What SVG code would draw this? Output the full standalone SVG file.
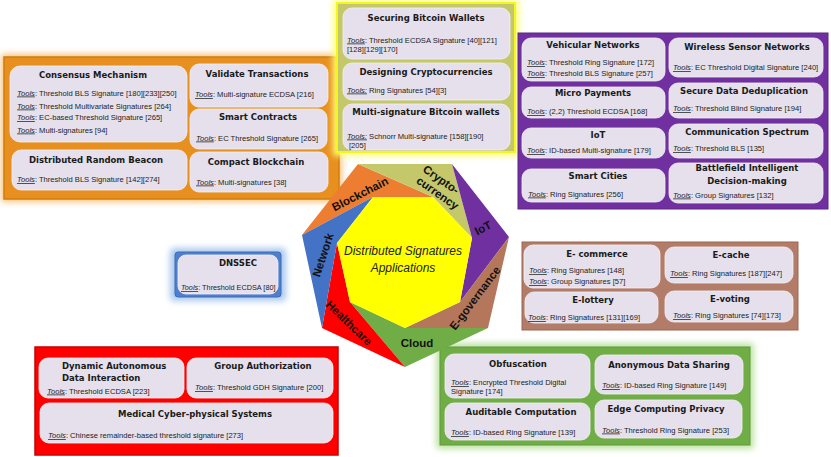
<svg xmlns="http://www.w3.org/2000/svg" width="831" height="457" viewBox="0 0 831 457">
<defs>
<filter id="blur" x="-20%" y="-20%" width="140%" height="140%"><feGaussianBlur stdDeviation="3"/></filter>
<style>
.box{fill:#E5E0EC;stroke:#F4F1F7;stroke-width:0.8}
.t{font-family:"DejaVu Sans",sans-serif;font-weight:bold;font-size:8.5px;fill:#1a1a1a;text-anchor:middle}
.tl{font-family:"DejaVu Sans",sans-serif;font-weight:bold;font-size:8.5px;fill:#1a1a1a}
.s{font-family:"Liberation Sans",Arial,sans-serif;font-size:7.6px;fill:#222}
.u{font-style:italic;text-decoration:underline}
.seg{font-family:"Liberation Sans",Arial,sans-serif;font-weight:bold;font-size:11.5px;fill:#111;text-anchor:middle}
.ctr{font-family:"Liberation Sans",Arial,sans-serif;font-style:italic;font-size:12px;fill:#222;text-anchor:middle}
</style>
</defs>
<rect width="831" height="457" fill="#ffffff"/>

<!-- Orange panel: Blockchain -->
<g id="panel-blockchain">
<rect x="1" y="54" width="341" height="148" rx="3" fill="#F6C27A" filter="url(#blur)"/>
<rect x="4" y="57" width="335" height="142" fill="#E8901F" stroke="#D27C0E" stroke-width="1.5"/>
<g id="consensus-mechanism">
<rect class="box" x="10" y="66" width="177" height="76" rx="10"/>
<text class="t" x="93" y="78">Consensus Mechanism</text>
<text class="s" x="17" y="95.5"><tspan class="u">Tools</tspan>: Threshold BLS Signature [180][233][250]</text>
<text class="s" x="17" y="108.5"><tspan class="u">Tools</tspan>: Threshold Multivariate Signatures [264]</text>
<text class="s" x="17" y="120"><tspan class="u">Tools</tspan>: EC-based Threshold Signature  [265]</text>
<text class="s" x="17" y="132.5"><tspan class="u">Tools</tspan>: Multi-signatures [94]</text>
</g>
<g id="validate-transactions">
<rect class="box" x="190" y="64" width="138" height="43" rx="9"/>
<text class="t" x="257" y="76.5">Validate Transactions</text>
<text class="s" x="195" y="97"><tspan class="u">Tools</tspan>: Multi-signature ECDSA [216]</text>
</g>
<g id="smart-contracts">
<rect class="box" x="190" y="109" width="137" height="40" rx="9"/>
<text class="t" x="258" y="120">Smart Contracts</text>
<text class="s" x="196" y="140.5"><tspan class="u">Tools</tspan>: EC Threshold Signature [265]</text>
</g>
<g id="distributed-random-beacon">
<rect class="box" x="12" y="150" width="175" height="40" rx="9"/>
<text class="t" x="96" y="162.5">Distributed Random Beacon</text>
<text class="s" x="17" y="182"><tspan class="u">Tools</tspan>: Threshold BLS Signature  [142][274]</text>
</g>
<g id="compact-blockchain">
<rect class="box" x="190" y="152" width="138" height="40" rx="9"/>
<text class="t" x="256" y="164.5">Compact Blockchain</text>
<text class="s" x="196" y="184.5"><tspan class="u">Tools</tspan>: Multi-signatures [38]</text>
</g>
</g>

<!-- Yellow panel: Cryptocurrency -->
<g id="panel-cryptocurrency">
<rect x="333" y="0" width="186" height="156" fill="#FFFF7A" filter="url(#blur)"/>
<rect x="337" y="3" width="178" height="149" fill="#C5C76B" stroke="#F5F520" stroke-width="2"/>
<g id="securing-bitcoin-wallets">
<rect class="box" x="343" y="8" width="167" height="51" rx="9"/>
<text class="t" x="426" y="20.5">Securing Bitcoin Wallets</text>
<text class="s" x="347" y="42.5"><tspan class="u">Tools</tspan>: Threshold ECDSA Signature [40][121]</text>
<text class="s" x="347" y="52">[128][129][170]</text>
</g>
<g id="designing-cryptocurrencies">
<rect class="box" x="343" y="63" width="167" height="37" rx="9"/>
<text class="t" x="426" y="74.5">Designing Cryptocurrencies</text>
<text class="s" x="347" y="92.5"><tspan class="u">Tools:</tspan> Ring Signatures [54][3]</text>
</g>
<g id="multisig-bitcoin-wallets">
<rect class="box" x="343" y="104" width="167" height="46" rx="9"/>
<text class="t" x="426" y="115">Multi-signature Bitcoin wallets</text>
<text class="s" x="347" y="138.5"><tspan class="u">Tools:</tspan> Schnorr Multi-signature [158][190]</text>
<text class="s" x="349" y="148">[205]</text>
</g>
</g>

<!-- Purple panel: IoT -->
<g id="panel-iot">
<rect x="518" y="33" width="310" height="176" fill="#7030A0" stroke="#5E2488" stroke-width="1"/>
<g id="vehicular-networks">
<rect class="box" x="522" y="38" width="143" height="43" rx="9"/>
<text class="t" x="593" y="47.5">Vehicular Networks</text>
<text class="s" x="527" y="65"><tspan class="u">Tools</tspan>: Threshold Ring Signature [172]</text>
<text class="s" x="527" y="76"><tspan class="u">Tools</tspan>: Threshold BLS Signature [257]</text>
</g>
<g id="micro-payments">
<rect class="box" x="522" y="87" width="143" height="31" rx="9"/>
<text class="t" x="593" y="96">Micro Payments</text>
<text class="s" x="527" y="114"><tspan class="u">Tools</tspan>: (2,2) Threshold ECDSA [168]</text>
</g>
<g id="iot-box">
<rect class="box" x="522" y="128" width="143" height="30" rx="9"/>
<text class="t" x="598" y="138">IoT</text>
<text class="s" x="527" y="153"><tspan class="u">Tools</tspan>: ID-based Multi-signature [179]</text>
</g>
<g id="smart-cities">
<rect class="box" x="522" y="169" width="143" height="33" rx="9"/>
<text class="t" x="598" y="179">Smart Cities</text>
<text class="s" x="528" y="196.5"><tspan class="u">Tools</tspan>: Ring Signatures [256]</text>
</g>
<g id="wireless-sensor-networks">
<rect class="box" x="669" y="38" width="154" height="39" rx="9"/>
<text class="t" x="747" y="49.5">Wireless Sensor Networks</text>
<text class="s" x="673" y="70"><tspan class="u">Tools</tspan>: EC Threshold Digital Signature [240]</text>
</g>
<g id="secure-data-deduplication">
<rect class="box" x="669" y="83" width="154" height="35" rx="9"/>
<text class="t" x="744" y="93.5">Secure Data Deduplication</text>
<text class="s" x="673" y="111"><tspan class="u">Tools</tspan>: Threshold Blind Signature [194]</text>
</g>
<g id="communication-spectrum">
<rect class="box" x="669" y="124" width="154" height="34" rx="9"/>
<text class="t" x="747" y="134.5">Communication Spectrum</text>
<text class="s" x="673" y="151"><tspan class="u">Tools</tspan>: Threshold BLS [135]</text>
</g>
<g id="battlefield-decision-making">
<rect class="box" x="669" y="163" width="154" height="40" rx="9"/>
<text class="t" x="747" y="171">Battlefield Intelligent</text>
<text class="t" x="747" y="184">Decision-making</text>
<text class="s" x="673" y="197.5"><tspan class="u">Tools</tspan>: Group Signatures [132]</text>
</g>
</g>

<!-- Blue panel: Network -->
<g id="panel-network">
<rect x="170" y="248" width="116" height="53" rx="4" fill="#A9C8EE" filter="url(#blur)"/>
<rect x="175" y="252" width="106" height="45" rx="3" fill="#4F7FCC" stroke="#3E6CB8" stroke-width="1"/>
<g id="dnssec">
<rect class="box" x="178" y="255" width="100" height="39" rx="8"/>
<text class="t" x="238" y="265.5">DNSSEC</text>
<text class="s" x="181" y="290" style="font-size:7.3px"><tspan class="u">Tools</tspan>: Threshold ECDSA [80]</text>
</g>
</g>

<!-- Brown panel: E-governance -->
<g id="panel-egovernance">
<rect x="522" y="242" width="276" height="88" fill="#B27C68" stroke="#9C6652" stroke-width="1"/>
<g id="e-commerce">
<rect class="box" x="524" y="245" width="136" height="43" rx="9"/>
<text class="t" x="597" y="256.5">E- commerce</text>
<text class="s" x="529" y="273"><tspan class="u">Tools</tspan>: Ring Signatures  [148]</text>
<text class="s" x="529" y="284"><tspan class="u">Tools</tspan>: Group Signatures  [57]</text>
</g>
<g id="e-cache">
<rect class="box" x="665" y="247" width="128" height="36" rx="9"/>
<text class="t" x="731" y="257.5">E-cache</text>
<text class="s" x="670" y="276"><tspan class="u">Tools</tspan>: Ring Signatures  [187][247]</text>
</g>
<g id="e-lottery">
<rect class="box" x="525" y="292" width="133" height="31" rx="9"/>
<text class="t" x="593" y="303">E-lottery</text>
<text class="s" x="528" y="320"><tspan class="u">Tools</tspan>: Ring Signatures  [131][169]</text>
</g>
<g id="e-voting">
<rect class="box" x="665" y="291" width="128" height="31" rx="9"/>
<text class="t" x="730" y="301.5">E-voting</text>
<text class="s" x="673" y="318"><tspan class="u">Tools</tspan>: Ring Signatures  [74][173]</text>
</g>
</g>

<!-- Red panel: Healthcare -->
<g id="panel-healthcare">
<rect x="35" y="347" width="303" height="108" fill="#FF0000" stroke="#C80000" stroke-width="1.5"/>
<g id="dynamic-autonomous-data-interaction">
<rect class="box" x="39" y="358" width="145" height="40" rx="9"/>
<text class="tl" x="62" y="368.5">Dynamic Autonomous</text>
<text class="tl" x="62" y="381">Data Interaction</text>
<text class="s" x="47" y="393.5"><tspan class="u">Tools</tspan>: Threshold ECDSA [223]</text>
</g>
<g id="group-authorization">
<rect class="box" x="187" y="358" width="146" height="40" rx="9"/>
<text class="t" x="263" y="369">Group Authorization</text>
<text class="s" x="195" y="390"><tspan class="u">Tools</tspan>: Threshold GDH Signature [200]</text>
</g>
<g id="medical-cps">
<rect class="box" x="40" y="403" width="293" height="40" rx="9"/>
<text class="t" x="195" y="417">Medical Cyber-physical Systems</text>
<text class="s" x="48" y="438"><tspan class="u">Tools</tspan>: Chinese remainder-based threshold signature [273]</text>
</g>
</g>

<!-- Green panel: Cloud -->
<g id="panel-cloud">
<rect x="436" y="343" width="318" height="106" rx="3" fill="#BFE3A6" filter="url(#blur)"/>
<rect x="440" y="347" width="310" height="98" fill="#70AD47" stroke="#5E9A38" stroke-width="1"/>
<g id="obfuscation">
<rect class="box" x="445" y="354" width="145" height="44" rx="9"/>
<text class="t" x="518" y="366.5">Obfuscation</text>
<text class="s" x="451" y="385"><tspan class="u">Tools</tspan>: Encrypted Threshold Digital</text>
<text class="s" x="451" y="394">Signature [174]</text>
</g>
<g id="anonymous-data-sharing">
<rect class="box" x="595" y="355" width="148" height="39" rx="9"/>
<text class="t" x="669" y="368">Anonymous Data Sharing</text>
<text class="s" x="602" y="388"><tspan class="u">Tools</tspan>: ID-based Ring Signature [149]</text>
</g>
<g id="auditable-computation">
<rect class="box" x="445" y="403" width="145" height="37" rx="9"/>
<text class="t" x="521" y="415">Auditable Computation</text>
<text class="s" x="451" y="435"><tspan class="u">Tools</tspan>: ID-based Ring Signature [139]</text>
</g>
<g id="edge-computing-privacy">
<rect class="box" x="595" y="400" width="147" height="38" rx="9"/>
<text class="t" x="666" y="411.5">Edge Computing Privacy</text>
<text class="s" x="602" y="432.5"><tspan class="u">Tools</tspan>: Threshold Ring Signature [253]</text>
</g>
</g>

<!-- Central heptagon -->
<g id="hub">
<polygon points="302,235 358,164 433,197 373,197" fill="#ED7D31"/>
<polygon points="358,164 452,164 472,238 433,197" fill="#C4C86A"/>
<polygon points="452,164 509,237 460,302 472,238" fill="#7030A0"/>
<polygon points="509,237 488,328 405,328 460,302" fill="#B4775C"/>
<polygon points="488,328 405,367 350,302 405,328" fill="#70AD47"/>
<polygon points="405,367 322,328 337,243 350,302" fill="#FF0000"/>
<polygon points="322,328 302,235 373,197 337,243" fill="#4472C4"/>
<polygon points="373,197 433,197 472,238 460,302 405,328 350,302 337,243" fill="#FFFF00"/>
<text class="seg" transform="translate(360,194) rotate(-27)" y="4">Blockchain</text>
<g transform="translate(439,186) rotate(35)">
<text class="seg" x="-2" y="-2.5">Crypto-</text>
<text class="seg" x="3" y="10.5">currency</text>
</g>
<text class="seg" transform="translate(483,228) rotate(-27)" y="4">IoT</text>
<text class="seg" transform="translate(475,298) rotate(-53)" y="4">E-governance</text>
<text class="seg" x="417" y="347">Cloud</text>
<text class="seg" transform="translate(349,323) rotate(44)" y="4">Healthcare</text>
<text class="seg" transform="translate(323,255) rotate(-72)" y="4">Network</text>
<text class="ctr" x="403" y="255">Distributed Signatures</text>
<text class="ctr" x="403" y="272">Applications</text>
</g>

<g id="connectors"/>
</svg>
